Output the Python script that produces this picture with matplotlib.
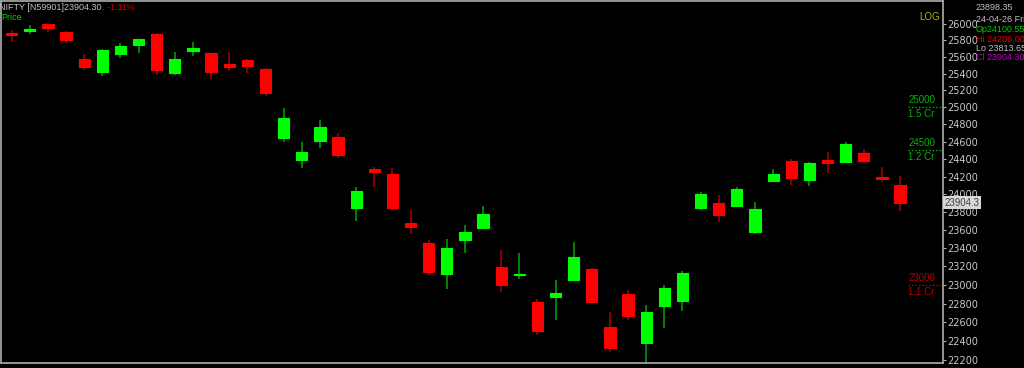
import numpy as np
import matplotlib
matplotlib.use("Agg")
import matplotlib.pyplot as plt
from matplotlib.ticker import FixedLocator, NullLocator, FuncFormatter

# daily NIFTY candles (oldest -> newest)
opens = [25890, 25916, 25998, 25904, 25570, 25422, 25634, 25746, 25876, 25406,
         25674, 25646, 25514, 25558, 25458, 24646, 24386, 24612, 24658, 23844,
         24287, 24230, 23675, 23457, 23115, 23490, 23623, 23198, 23108, 22820,
         22873, 23053, 23170, 22547, 22902, 22378, 22774, 22830, 23841, 23907,
         23872, 23579, 24154, 24382, 24162, 24390, 24370, 24470, 24196, 24100.55]
highs = [25925, 25985, 26006, 25910, 25630, 25692, 25770, 25818, 25884, 25662,
         25777, 25650, 25658, 25570, 25470, 24988, 24600, 24852, 24704, 24079,
         24313, 24298, 23821, 23490, 23502, 23653, 23869, 23377, 23347, 22849,
         23053, 23468, 23184, 22706, 22945, 22784, 22999, 23154, 24022, 23995,
         24079, 23913, 24282, 24398, 24370, 24478, 24600, 24516, 24305, 24206.00]
lows = [25782, 25876, 25904, 25763, 25442, 25371, 25582, 25642, 25386, 25379,
        25610, 25331, 25430, 25402, 25137, 24600, 24298, 24532, 24416, 23701,
        24079, 23821, 23560, 23111, 22956, 23347, 23615, 22927, 23067, 22469,
        22628, 23045, 22810, 22290, 22624, 22175, 22543, 22724, 23818, 23686,
        23861, 23557, 24150, 24105, 24094, 24238, 24355, 24355, 24139, 23813.65]
closes = [25860, 25932, 25952, 25807, 25474, 25686, 25727, 25815, 25446, 25570,
          25710, 25422, 25482, 25494, 25172, 24872, 24478, 24767, 24447, 24034,
          24256, 23844, 23634, 23140, 23405, 23575, 23779, 22996, 23118, 22503,
          22913, 23304, 22816, 22326, 22670, 22713, 22968, 23126, 24003, 23768,
          24057, 23830, 24230, 24188, 24355, 24359, 24577, 24375, 24170, 23904.30]

price_ticks = list(range(22200, 26001, 200))
levels = [25000, 24500, 23000]
level_labels = ["1.5 Cr", "1.2 Cr", "1.1 Cr"]
level_colors = ["#00b400", "#00b400", "#b40000"]
last_price = 23904.3

W, H = 1024, 368
fig = plt.figure(figsize=(W / 100, H / 100), dpi=100, facecolor="black")
ax = fig.add_axes([1 / W, 5 / H, 942 / W, 362 / H], facecolor="black")

font = ["Liberation Sans Narrow", "Liberation Sans", "DejaVu Sans"]
plt.rcParams["font.family"] = font

x = np.arange(len(opens))
o = np.array(opens); h = np.array(highs); l = np.array(lows); c = np.array(closes)
up = c >= o
body_col = np.where(up, "#00ff00", "#ff0000")
wick_col = np.where(up, "#009a00", "#a00000")

ax.vlines(x, l, h, colors=wick_col, linewidth=1.2, zorder=2)
ax.bar(x, np.abs(c - o), bottom=np.minimum(o, c), width=0.62,
       color=body_col, edgecolor=body_col, linewidth=0.8, zorder=3)

ax.set_yscale("log")
ax.set_ylim(22172, 26280)
ax.set_xlim(-0.59, 51.37)

ax.yaxis.set_major_locator(FixedLocator(price_ticks))
ax.yaxis.set_minor_locator(NullLocator())
ax.yaxis.set_major_formatter(FuncFormatter(lambda v, p: f"{v:.0f}"))
ax.yaxis.tick_right()
ax.tick_params(axis="y", colors="#b0b0b0", labelcolor="#c8c8c8", labelsize=7,
               length=2, width=0.8, pad=1)
ax.set_xticks([])
for s in ax.spines.values():
    s.set_color("#a0a0a0")
    s.set_linewidth(1.3)

# volume-profile style level marks
for lv, lab, col in zip(levels, level_labels, level_colors):
    ax.axhline(lv, xmin=0.963, xmax=1.0, color=col, linestyle=(0, (1, 1.5)), linewidth=1)
    ax.annotate(str(lv), (0.963, lv), xycoords=("axes fraction", "data"),
                xytext=(0, 1.5), textcoords="offset points", ha="left", va="bottom",
                color=col, fontsize=7)
    ax.annotate(lab, (0.963, lv), xycoords=("axes fraction", "data"),
                xytext=(0, -1.5), textcoords="offset points", ha="left", va="top",
                color=col, fontsize=7)

ax.annotate(f"{last_price:.1f}", (1.0, last_price), xycoords=("axes fraction", "data"),
            xytext=(1, 0), textcoords="offset points", ha="left", va="center",
            color="#404040", fontsize=7, zorder=10, annotation_clip=False,
            bbox=dict(boxstyle="square,pad=0.15", fc="#d8d8d8", ec="none"))

def px(xp, yp, s, col, size=6.5, **kw):
    return fig.text(xp / W, 1 - yp / H, s, color=col, fontsize=size,
                    va="center", ha="left", **kw)

head = px(-1, 7, "NIFTY [N59901]23904.30", "#c0c0c0")
fig.canvas.draw()
ax.annotate(", -1.11%", xy=(1, 0.5), xycoords=head, va="center", ha="left",
            color="#d00000", fontsize=6.5, annotation_clip=False)
px(1, 18, "Price", "#00c800")
fig.text(940 / W, 1 - 17 / H, "LOG", color="#b4b400", fontsize=7, va="center", ha="right")

px(976, 7, "23898.35", "#c0c0c0")
px(976, 19, "24-04-26 Fri", "#c0c0c0")
px(976, 29, "Op24100.55", "#00c800")
px(976, 39, "Hi 24206.00", "#e00000")
px(976, 48.5, "Lo 23813.65", "#c0c0c0")
px(976, 57, "Cl 23904.30", "#c000c0")

fig.savefig("out.png", dpi=100, facecolor="black")
